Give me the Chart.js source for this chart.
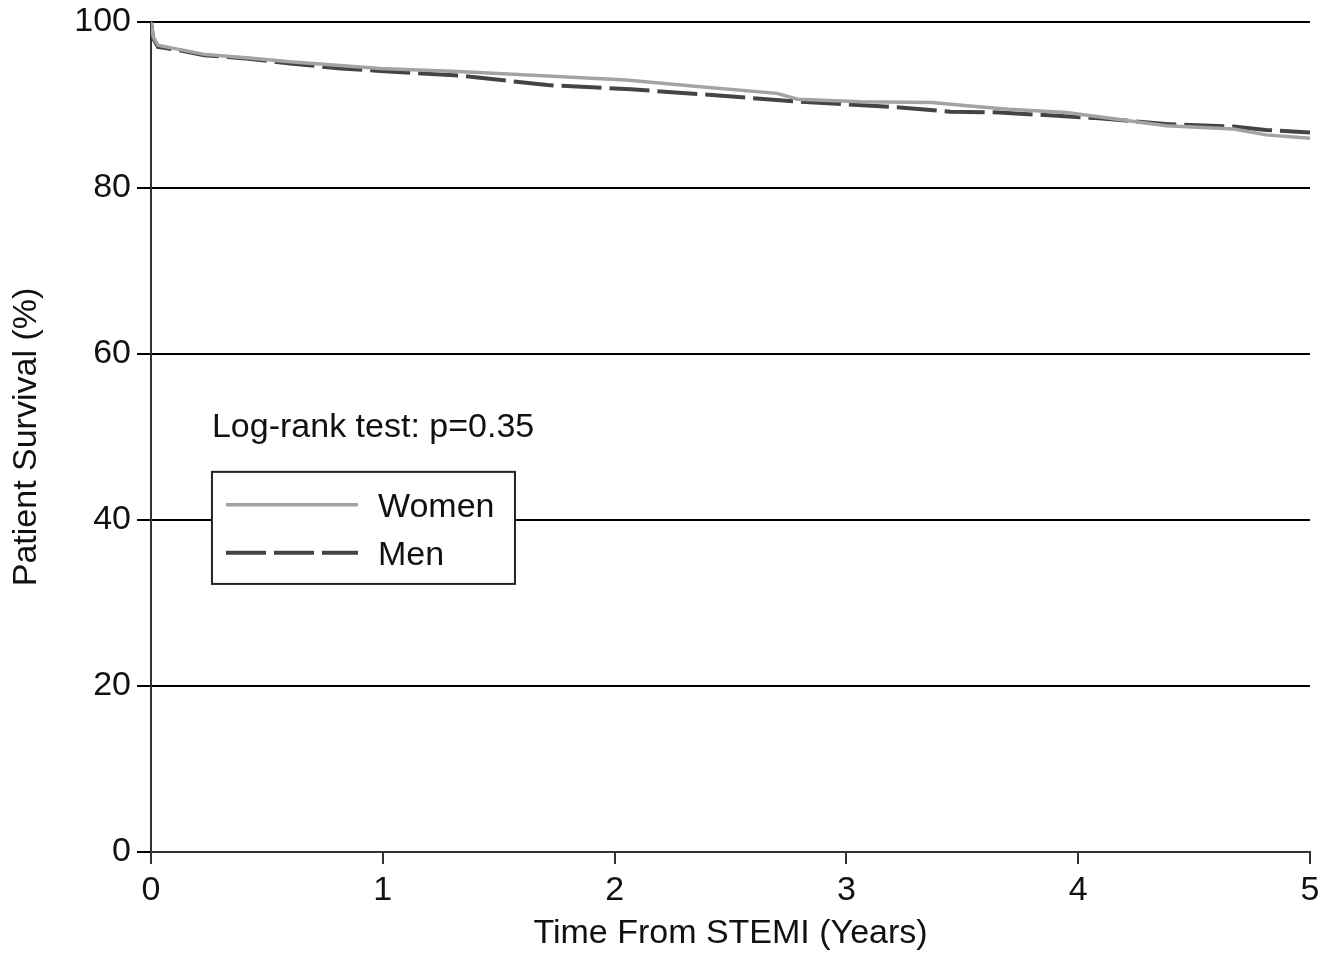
<!DOCTYPE html>
<html>
<head>
<meta charset="utf-8">
<script src="https://cdn.jsdelivr.net/npm/chart.js@4.4.1/dist/chart.umd.min.js"></script>
<style>
  html, body { margin: 0; padding: 0; background: #fff; }
  #wrap { width: 1336px; height: 956px; }
</style>
</head>
<body>
<div id="wrap"><canvas id="myChart" width="1336" height="956"></canvas></div>
<script>
// Kaplan-Meier curves
const timeWomen = [0, 0.01, 0.03, 0.12, 0.23, 0.41, 0.6, 0.8, 0.99, 1.35, 1.71, 2.05, 2.37, 2.70, 2.79, 3.06, 3.37, 3.52, 3.70, 3.95, 4.38, 4.67, 4.81, 5.0]
const survWomen = [100, 98.2, 97.2, 96.7, 96.1, 95.7, 95.2, 94.8, 94.4, 94.0, 93.5, 93.0, 92.2, 91.4, 90.7, 90.4, 90.3, 89.9, 89.5, 89.1, 87.5, 87.1, 86.4, 86.0]
const timeMen = [0, 0.01, 0.03, 0.12, 0.23, 0.41, 0.6, 0.82, 0.99, 1.35, 1.71, 2.07, 2.42, 2.8, 3.23, 3.45, 3.66, 4.09, 4.38, 4.67, 4.81, 5.0]
const survMen = [100, 98.0, 97.0, 96.6, 96.0, 95.6, 95.0, 94.4, 94.1, 93.5, 92.4, 91.9, 91.2, 90.4, 89.7, 89.2, 89.1, 88.4, 87.7, 87.4, 87.0, 86.7]
const xTicks = [0, 1, 2, 3, 4, 5]
const yTicks = [0, 20, 40, 60, 80, 100]
const annotationText = 'Log-rank test: p=0.35'

const FONT = '"Liberation Sans", Arial, Helvetica, sans-serif'
const FSIZE = 34

function toPoints(xs, ys) {
    return xs.map((x, i) => ({x: x, y: ys[i]}))
}

// legend box + log-rank text inside the plot
const boxLegend = {
    id: 'boxLegend',
    afterDraw(chart) {
        const ctx = chart.ctx
        const xs = chart.scales.x, ys = chart.scales.y
        const left = xs.getPixelForValue(0.263)
        const top = ys.getPixelForValue(45.8)
        const bottom = ys.getPixelForValue(32.3)
        const right = left + 303
        ctx.save()
        ctx.font = FSIZE + 'px ' + FONT
        ctx.fillStyle = '#111'
        ctx.textBaseline = 'middle'
        ctx.textAlign = 'left'
        ctx.fillText(annotationText, left, ys.getPixelForValue(51.1))

        ctx.fillStyle = '#fff'
        ctx.fillRect(left, top, right - left, bottom - top)
        ctx.strokeStyle = '#222'
        ctx.lineWidth = 2
        ctx.strokeRect(left, top, right - left, bottom - top)

        const rows = [top + 33, top + 81]
        chart.data.datasets.forEach((ds, i) => {
            const yy = rows[i]
            ctx.beginPath()
            ctx.setLineDash(ds.borderDash || [])
            ctx.strokeStyle = ds.borderColor
            ctx.lineWidth = ds.borderWidth
            ctx.moveTo(left + 14, yy)
            ctx.lineTo(left + 146, yy)
            ctx.stroke()
            ctx.setLineDash([])
            ctx.fillStyle = '#111'
            ctx.fillText(ds.label, left + 166, yy + 3)
        })
        ctx.restore()
    }
}

function drawChart() {
    const ctx = document.getElementById('myChart')

    const data = {
        datasets: [
            {
            label: 'Women',
            data: toPoints(timeWomen, survWomen),
            borderColor: '#a3a3a3',
            borderWidth: 3.5,
            pointRadius: 0,
            tension: 0
        },
            {
            label: 'Men',
            data: toPoints(timeMen, survMen),
            borderColor: '#444444',
            borderWidth: 4,
            borderDash: [40, 8],
            pointRadius: 0,
            tension: 0
        }]
    }

    const config = {
        type: 'line',
        data: data,
        options: {
            responsive: false,
            animation: false,
            layout: {padding: {top: 22, right: 26, left: 0, bottom: 0}},
            plugins: {legend: {display: false}, tooltip: {enabled: false}},
            scales: {
                x: {
                    type: 'linear', min: 0, max: 5,
                    afterBuildTicks: s => { s.ticks = xTicks.map(v => ({value: v})) },
                    ticks: {font: {family: FONT, size: FSIZE}, color: '#111', padding: 6, maxRotation: 0},
                    grid: {drawOnChartArea: false, drawTicks: true, tickLength: 12, color: '#333', lineWidth: 2},
                    border: {color: '#333', width: 2},
                    title: {display: true, text: 'Time From STEMI (Years)', font: {family: FONT, size: FSIZE}, color: '#111', padding: {top: 0, bottom: 2}},
                    afterFit: s => { s.height = 104 }
                },
                y: {
                    min: 0, max: 100,
                    afterBuildTicks: s => { s.ticks = yTicks.map(v => ({value: v})) },
                    ticks: {font: {family: FONT, size: FSIZE, lineHeight: 1}, color: '#111', padding: 6},
                    grid: {color: '#000', lineWidth: 2, tickLength: 14},
                    border: {color: '#333', width: 2},
                    title: {display: true, text: 'Patient Survival (%)', font: {family: FONT, size: FSIZE}, color: '#111', padding: {top: 6, bottom: 0}},
                    afterFit: s => { s.width = 151; s.paddingTop = 0; s.paddingBottom = 0 }
                }
            }
        },
        plugins: [boxLegend]
    }

    new Chart(ctx, config)
}

document.addEventListener('DOMContentLoaded', drawChart)
</script>
</body>
</html>
